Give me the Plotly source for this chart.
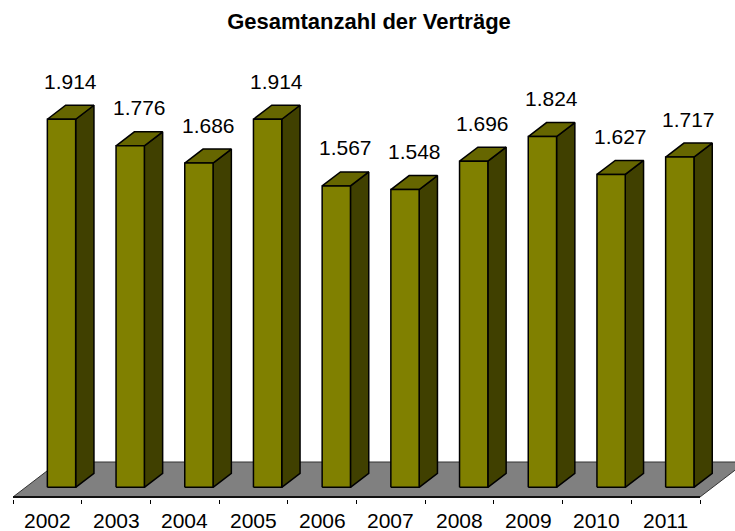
import plotly.graph_objects as go

# ---------------- data ----------------
years = ["2002", "2003", "2004", "2005", "2006", "2007", "2008", "2009", "2010", "2011"]
contracts = [1914, 1776, 1686, 1914, 1567, 1548, 1696, 1824, 1627, 1717]
title_text = "Gesamtanzahl der Verträge"

# ---------------- geometry / style ----------------
W, H = 735, 531
M_L, M_R, M_T, M_B = 13, 0, 40, 32
PX_X = 68.7          # pixels per category
PX_Y = 0.1923        # pixels per contract
ZERO_PX = 487.3      # pixel row of the value 0 (front face)
plot_h = H - M_T - M_B
y_min = -(H - M_B - ZERO_PX) / PX_Y
y_max = y_min + plot_h / PX_Y
x_min = -0.5
x_max = x_min + (W - M_L - M_R) / PX_X

BAR_W = 28.3 / PX_X
DEPTH_X = 18.3 / PX_X
DEPTH_Y = 14.0 / PX_Y
FLOOR_FRONT = -(497 - ZERO_PX) / PX_Y
FLOOR_BACK = (ZERO_PX - 462) / PX_Y
FLOOR_DX = 45.7 / PX_X

FRONT_C = "#808000"
TOP_C = "#666600"
SIDE_C = "#404000"
FLOOR_C = "#808080"
FONT = "Arial, Liberation Sans, sans-serif"

n = len(years)
fig = go.Figure()

# floor
fx = [x_min, n - 0.5, n - 0.5 + FLOOR_DX, x_min + FLOOR_DX, x_min]
fy = [FLOOR_FRONT, FLOOR_FRONT, FLOOR_BACK, FLOOR_BACK, FLOOR_FRONT]
fig.add_trace(go.Scatter(x=fx, y=fy, mode="lines", fill="toself", fillcolor=FLOOR_C,
                         line=dict(color="#333333", width=1), hoverinfo="skip", showlegend=False))
fig.add_trace(go.Scatter(x=[x_min, n - 0.5], y=[FLOOR_FRONT, FLOOR_FRONT], mode="lines",
                         line=dict(color="#111111", width=2.2), hoverinfo="skip", showlegend=False))

# bars
side_x, side_y, top_x, top_y, front_x, front_y = [], [], [], [], [], []
for i, v in enumerate(contracts):
    x0, x1 = i, i + BAR_W
    front_x += [x0, x1, x1, x0, x0, None]
    front_y += [0, 0, v, v, 0, None]
    top_x += [x0, x1, x1 + DEPTH_X, x0 + DEPTH_X, x0, None]
    top_y += [v, v, v + DEPTH_Y, v + DEPTH_Y, v, None]
    side_x += [x1, x1 + DEPTH_X, x1 + DEPTH_X, x1, x1, None]
    side_y += [0, DEPTH_Y, v + DEPTH_Y, v, 0, None]

for xs, ys, c in [(side_x, side_y, SIDE_C), (top_x, top_y, TOP_C), (front_x, front_y, FRONT_C)]:
    fig.add_trace(go.Scatter(x=xs, y=ys, mode="lines", fill="toself", fillcolor=c,
                             line=dict(color="black", width=1.5), hoverinfo="skip",
                             showlegend=False))

annotations = []
for i, v in enumerate(contracts):
    annotations.append(dict(
        x=i + BAR_W / 2 + DEPTH_X / 2, y=v + DEPTH_Y, xref="x", yref="y",
        text=f"{v:,}".replace(",", "."), showarrow=False, yanchor="middle", xanchor="center",
        yshift=24, font=dict(family=FONT, size=21, color="black")))
    annotations.append(dict(
        x=i, y=0, xref="x", yref="paper", text=years[i], showarrow=False,
        yanchor="middle", xanchor="center", yshift=-21,
        font=dict(family=FONT, size=21, color="black")))

fig.update_layout(
    width=W, height=H,
    margin=dict(l=M_L, r=M_R, t=M_T, b=M_B, pad=0),
    paper_bgcolor="white", plot_bgcolor="white",
    title=dict(text="<b>" + title_text + "</b>", x=369 / W, xanchor="center",
               y=1 - 21 / H, yanchor="middle", xref="container", yref="container",
               font=dict(family=FONT, size=22, color="black")),
    xaxis=dict(range=[x_min, x_max], tickvals=[k - 0.5 for k in range(n + 1)],
               ticks="outside", ticklen=4, tickwidth=1, tickcolor="black",
               showticklabels=False, showgrid=False, zeroline=False, showline=False,
               fixedrange=True),
    yaxis=dict(range=[y_min, y_max], visible=False, showgrid=False, zeroline=False,
               fixedrange=True),
    annotations=annotations,
    showlegend=False,
)

fig.write_html("out.html", config={"displayModeBar": False},
               post_script="document.body.style.margin='0';document.body.style.overflow='hidden';")
